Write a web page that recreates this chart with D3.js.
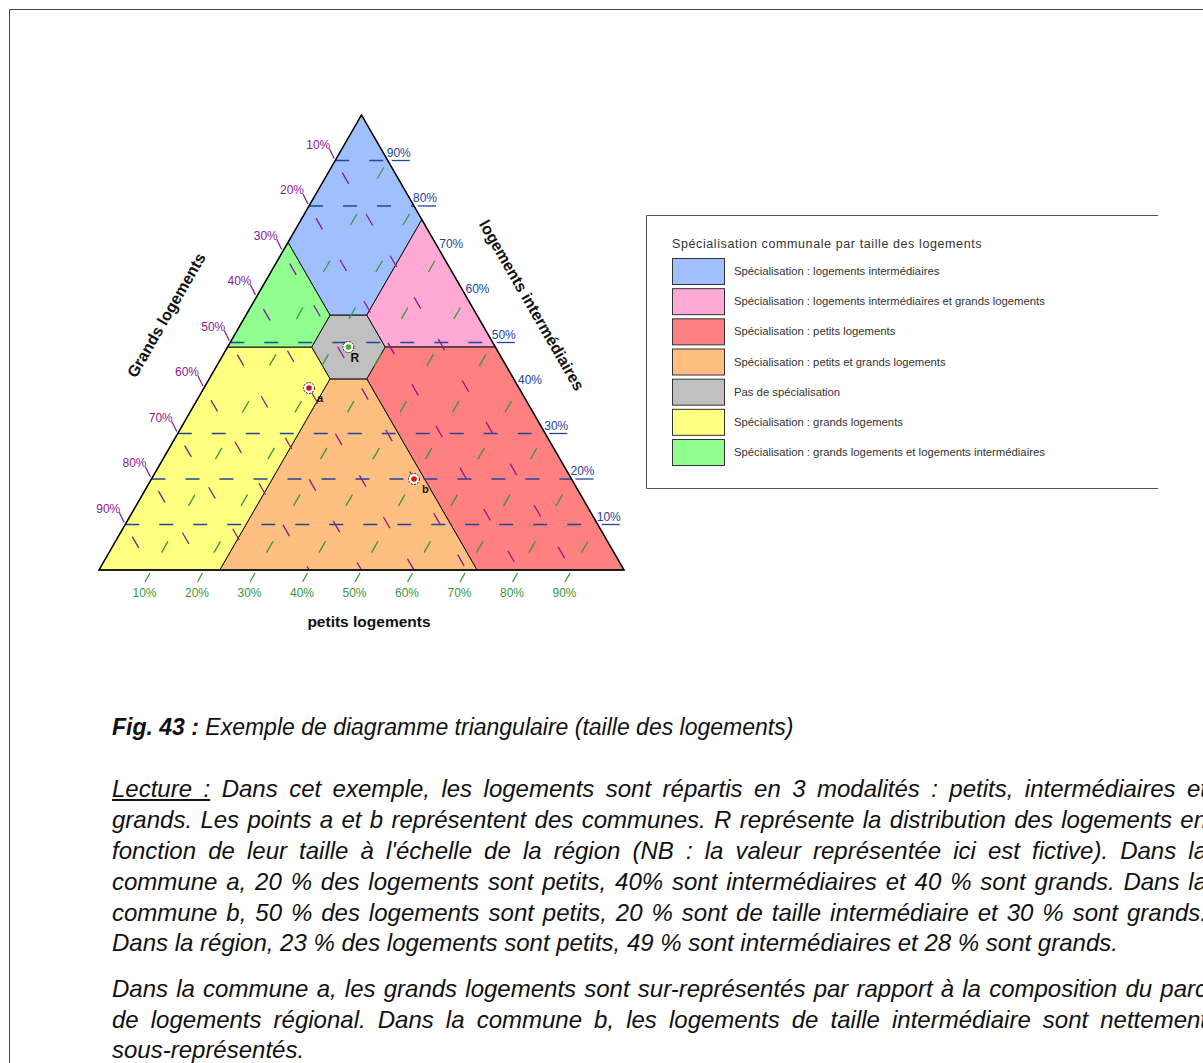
<!DOCTYPE html>
<html><head><meta charset="utf-8">
<script src="https://cdn.jsdelivr.net/npm/d3@7"></script>
<style>
html,body{margin:0;padding:0;background:#fff;overflow:hidden;}
body{width:1203px;height:1063px;position:relative;font-family:"Liberation Sans",Arial,sans-serif;}
#chart{position:absolute;left:0;top:0;}
.tl{position:absolute;left:112px;font-style:italic;font-size:24px;line-height:30px;color:#111;white-space:nowrap;}
.cap{font-size:23px;}
</style></head><body>
<svg id="chart" width="1203" height="1063"></svg>
<div id="text"></div>
<script>
// ---------- data ----------
const tickValues = [0.1,0.2,0.3,0.4,0.5,0.6,0.7,0.8,0.9];
const tickLabels = ["10%","20%","30%","40%","50%","60%","70%","80%","90%"];
const interGridValues = [0.1,0.2,0.3,0.5,0.8,0.9];
const pointNames = ["R","a","b"];
const petitsValues = [0.23,0.20,0.50];
const interValues = [0.49,0.40,0.20];
const grandsValues = [0.28,0.40,0.30];
const neutralBand = 0.07;
const zoneNames = [
  "Spécialisation : logements intermédiaires",
  "Spécialisation : logements intermédiaires et grands logements",
  "Spécialisation : petits logements",
  "Spécialisation : petits et grands logements",
  "Pas de spécialisation",
  "Spécialisation : grands logements",
  "Spécialisation : grands logements et logements intermédiaires"
];
const zoneColors = ["#a0bfff","#ffaad5","#ff8080","#ffbf80","#c0c0c0","#ffff80","#90ff90"];
const legendTitle = "Spécialisation communale par taille des logements";
const axisTitles = ["Grands logements","logements intermédiaires","petits logements"];
const captionBold = "Fig. 43 :";
const captionText = " Exemple de diagramme triangulaire (taille des logements)";
const paraLines = [
  ["Lecture :"," Dans cet exemple, les logements sont répartis en 3 modalités : petits, intermédiaires et", true],
  ["","grands. Les points a et b représentent des communes. R représente la distribution des logements en", true],
  ["","fonction de leur taille à l'échelle de la région (NB : la valeur représentée ici est fictive). Dans la", true],
  ["","commune a, 20 % des logements sont petits, 40% sont intermédiaires et 40 % sont grands. Dans la", true],
  ["","commune b, 50 % des logements sont petits, 20 % sont de taille intermédiaire et 30 % sont grands.", true],
  ["","Dans la région, 23 % des logements sont petits, 49 % sont intermédiaires et 28 % sont grands.", false],
  ["","Dans la commune a, les grands logements sont sur-représentés par rapport à la composition du parc", true],
  ["","de logements régional. Dans la commune b, les logements de taille intermédiaire sont nettement", true],
  ["","sous-représentés.", false]
];
const paraCenters = [789,820,851,882,913,943,989,1020,1050];
const justifyWidth = 1095;

// ---------- drawing ----------
const svg = d3.select("#chart");
const sx = d3.scaleLinear().domain([0,1]).range([99,624]);
const sy = d3.scaleLinear().domain([0,1]).range([570,115]);
const P = (p,i) => [sx(p + i/2), sy(i)];
const line = d3.line();

// frame
svg.append("path").attr("d","M1203,9.5H9.5V1063").attr("fill","none").attr("stroke","#444").attr("stroke-width",1);

// zones
const pR = petitsValues[0], iR = interValues[0], gR = grandsValues[0], d = neutralBand;
const H1=[pR-d,iR+d],H2=[pR,iR+d],H3=[pR+d,iR],H4=[pR+d,iR-d],H5=[pR,iR-d],H6=[pR-d,iR];
const A=[0,1],BL=[0,0],BR=[1,0];
const Egl=[0,1-gR],Epr=[pR,1-pR],Eir=[1-iR,iR],Egb=[1-gR,0],Epb=[pR,0],Eil=[0,iR];
const zonePolys = [
  [A,Epr,H2,H1,Egl],
  [Epr,Eir,H3,H2],
  [Eir,BR,Egb,H4,H3],
  [Egb,Epb,H5,H4],
  [H1,H2,H3,H4,H5,H6],
  [Epb,BL,Eil,H6,H5],
  [Eil,Egl,H1,H6]
];
svg.append("g").selectAll("path").data(zonePolys).join("path")
  .attr("d", poly => line(poly.map(q=>P(q[0],q[1])))+"Z")
  .attr("fill",(_,k)=>zoneColors[k]).attr("stroke","#111").attr("stroke-width",1);

const cBlue="#24449c", cPurple="#8c1a8c", cGreen="#38983a";
const grid = svg.append("g").attr("fill","none").attr("stroke-width",1.3);
// intermediate (horizontal)
interGridValues.forEach(v=>{
  const a=P(0,v), b=P(1-v,v);
  grid.append("path").attr("d",line([a,b])).attr("stroke",cBlue).attr("stroke-dasharray","14,20");
  grid.append("path").attr("d",line([[b[0]+4,b[1]],[b[0]+22,b[1]]])).attr("stroke",cBlue);
});
// grands (purple "\")
tickValues.forEach(v=>{
  const a=P(0,1-v), b=P(1-v,0);
  grid.append("path").attr("d",line([a,b])).attr("stroke",cPurple).attr("stroke-dasharray","0,14,13,21");
  grid.append("path").attr("d",line([[a[0]-1,a[1]-2],[a[0]-6,a[1]-12]])).attr("stroke",cPurple);
});
// petits (green "/")
tickValues.forEach(v=>{
  const a=P(v,0), b=P(v,1-v);
  grid.append("path").attr("d",line([a,b])).attr("stroke",cGreen).attr("stroke-dasharray","0,20,13,21");
  grid.append("path").attr("d",line([[a[0]-1.5,a[1]+3],[a[0]-6.5,a[1]+12]])).attr("stroke",cGreen);
});

// triangle outline
svg.append("path").attr("d",line([A,BR,BL].map(q=>P(q[0],q[1])))+"Z")
  .attr("fill","none").attr("stroke","#000").attr("stroke-width",1.5);

// tick labels
const tl = svg.append("g").attr("font-family","'Liberation Sans',Arial,sans-serif").attr("font-size",12);
tickValues.forEach((v,k)=>{
  const r=P(1-v,v);
  tl.append("text").attr("x",r[0]-1).attr("y",r[1]-4).attr("fill",cBlue).text(tickLabels[k]);
  const l=P(0,1-v);
  tl.append("text").attr("x",l[0]-5).attr("y",l[1]-12).attr("text-anchor","end").attr("fill",cPurple).text(tickLabels[k]);
  const b=P(v,0);
  tl.append("text").attr("x",b[0]-7).attr("y",597).attr("text-anchor","middle").attr("fill",cGreen).text(tickLabels[k]);
});

// axis titles
const at = svg.append("g").attr("font-family","'Liberation Sans',Arial,sans-serif").attr("font-size",16).attr("font-weight","bold").attr("fill","#111").attr("text-anchor","middle");
at.append("text").attr("transform","translate(171,318) rotate(-60)").text(axisTitles[0]);
at.append("text").attr("transform","translate(527,308) rotate(60)").text(axisTitles[1]);
at.append("text").attr("x",369).attr("y",627).attr("font-size",15.5).text(axisTitles[2]);

// points
const pts = svg.append("g");
pointNames.forEach((n,k)=>{
  const c=P(petitsValues[k],interValues[k]);
  pts.append("circle").attr("cx",c[0]).attr("cy",c[1]).attr("r",5.5).attr("fill","#fff").attr("stroke","#222").attr("stroke-width",1).attr("stroke-dasharray","2,1.2");
  pts.append("circle").attr("cx",c[0]).attr("cy",c[1]).attr("r",2.8).attr("fill", k===0?"#4caf1a":"#e01010");
  pts.append("text").attr("x",c[0]+(k===0?2:8)).attr("y",c[1]+(k===0?15:14)).attr("font-family","'Liberation Sans',Arial,sans-serif")
    .attr("font-weight","bold").attr("font-size",k===0?12:11).attr("fill","#111").text(n);
});

// legend
const lg = svg.append("g").attr("font-family","'Liberation Sans',Arial,sans-serif");
lg.append("path").attr("d","M1158,215.5H646.5V488.5H1158").attr("fill","none").attr("stroke","#555").attr("stroke-width",1);
lg.append("text").attr("x",672).attr("y",248).attr("font-size",12.5).attr("letter-spacing",0.6).attr("fill","#333").text(legendTitle);
const ly = d3.scaleLinear().domain([0,6]).range([258,439]);
zoneNames.forEach((n,k)=>{
  lg.append("rect").attr("x",672.5).attr("y",ly(k)+0.5).attr("width",52).attr("height",26).attr("fill",zoneColors[k]).attr("stroke","#333").attr("stroke-width",1);
  lg.append("text").attr("x",734).attr("y",ly(k)+17).attr("font-size",11.3).attr("fill","#333").text(n);
});

// caption and reading text
const tx = d3.select("#text");
const cap = tx.append("div").attr("class","tl cap").style("top",(727-15)+"px");
cap.append("b").text(captionBold);
cap.append("span").text(captionText);
paraLines.forEach((ln,k)=>{
  const dv = tx.append("div").attr("class","tl").style("top",(paraCenters[k]-15)+"px");
  if(ln[0]) dv.append("u").text(ln[0]);
  dv.append("span").text(ln[1]);
  if(ln[2]){
    const w = dv.node().getBoundingClientRect().width;
    const full = (ln[0]+ln[1]);
    const nSpaces = (full.match(/ /g)||[]).length;
    dv.style("word-spacing", ((justifyWidth - w)/nSpaces)+"px");
  }
});
</script>
</body></html>
